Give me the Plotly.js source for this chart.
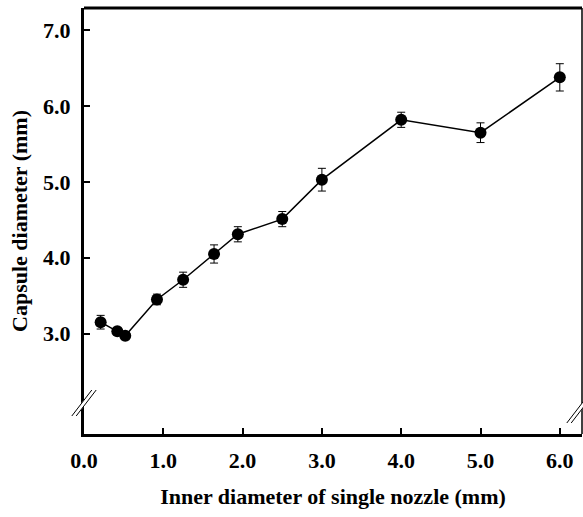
<!DOCTYPE html>
<html>
<head>
<meta charset="utf-8">
<script src="https://cdn.plot.ly/plotly-3.0.1.min.js"></script>
<style>html,body{margin:0;padding:0;background:#fff;}</style>
</head>
<body>
<div id="chart" style="width:583px;height:517px;"></div>
<script>
// Data
const innerDiameter = [0.21, 0.42, 0.52, 0.92, 1.25, 1.64, 1.94, 2.50, 3.00, 4.00, 5.00, 6.00];
const capsuleDiameter = [3.15, 3.03, 2.97, 3.45, 3.71, 4.05, 4.31, 4.51, 5.03, 5.82, 5.65, 6.38];
const errorValues = [0.09, 0.03, 0.05, 0.07, 0.10, 0.12, 0.10, 0.10, 0.15, 0.10, 0.13, 0.18];
const xTickVals = [0, 1, 2, 3, 4, 5, 6];
const xTickText = ['0.0', '1.0', '2.0', '3.0', '4.0', '5.0', '6.0'];
const yTickVals = [3, 4, 5, 6, 7];
const yTickText = ['3.0', '4.0', '5.0', '6.0', '7.0'];

const fam = '"Liberation Serif", "Times New Roman", serif';
const bold = t => '<b>' + t + '</b>';

const trace = {
  x: innerDiameter,
  y: capsuleDiameter,
  type: 'scatter',
  mode: 'lines+markers',
  line: {color: '#000', width: 1.5},
  marker: {color: '#000', size: 12},
  error_y: {type: 'data', array: errorValues, visible: true, color: '#000', thickness: 1, width: 4},
  showlegend: false,
  cliponaxis: false
};

// break-mark helper (paper coords from pixel positions)
const L = 84, R = 582, T = 8, B = 434;
function px(x) { return (x - L) / (R - L); }
function py(y) { return (B - y) / (B - T); }
function brk(cx, cy) {
  const dx = 10, dy = 13, off = 2.2;
  const s = [];
  s.push({type: 'line', xref: 'paper', yref: 'paper', x0: px(cx - dx + 0.5), y0: py(cy + dy - 1), x1: px(cx + dx - 0.5), y1: py(cy - dy + 1), line: {color: '#fff', width: 4}});
  [-off, off].forEach(o => {
    s.push({type: 'line', xref: 'paper', yref: 'paper', x0: px(cx - dx + o), y0: py(cy + dy), x1: px(cx + dx + o), y1: py(cy - dy), line: {color: '#000', width: 1}});
  });
  return s;
}

const shapes = [
  {type: 'line', xref: 'paper', yref: 'paper', x0: 0, y0: 1, x1: 1, y1: 1, line: {color: '#000', width: 3}},
  {type: 'line', xref: 'paper', yref: 'paper', x0: 1, y0: 0, x1: 1, y1: 1, line: {color: '#000', width: 1.5}}
].concat(brk(84, 403)).concat(brk(579, 410));

const tf = {family: fam, size: 22, color: '#000'};

const layout = {
  width: 583,
  height: 517,
  margin: {l: 84, r: 1, t: 8, b: 83},
  paper_bgcolor: '#fff',
  plot_bgcolor: '#fff',
  font: tf,
  xaxis: {
    range: [0, 6.28],
    tickvals: xTickVals,
    ticktext: xTickText.map(bold),
    ticks: 'inside',
    ticklen: 6,
    tickwidth: 2,
    tickcolor: '#000',
    showline: true,
    linecolor: '#000',
    linewidth: 3,
    showgrid: false,
    zeroline: false,
    tickfont: tf,
    ticklabelstandoff: 5,
    title: {text: bold('Inner diameter of single nozzle (mm)'), font: tf, standoff: 17},
    automargin: false
  },
  yaxis: {
    range: [1.675, 7.295],
    tickvals: yTickVals,
    ticktext: yTickText.map(bold),
    ticks: 'inside',
    ticklen: 6,
    tickwidth: 2,
    tickcolor: '#000',
    showline: true,
    linecolor: '#000',
    linewidth: 3,
    showgrid: false,
    zeroline: false,
    tickfont: tf,
    ticklabelstandoff: 6,
    title: {text: bold('Capsule diameter (mm)'), font: tf, standoff: 10},
    automargin: false
  },
  shapes: shapes
};

Plotly.newPlot('chart', [trace], layout, {displayModeBar: false, staticPlot: true});
</script>
</body>
</html>
